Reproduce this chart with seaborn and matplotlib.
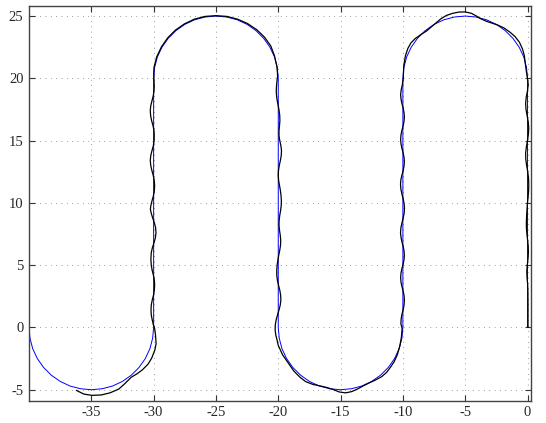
import matplotlib
matplotlib.use("Agg")
import pandas as pd
import matplotlib.pyplot as plt
import seaborn as sns


# ---------------------------------------------------------------------------
# Reference path (blue): two bottom and two top half circles joined by
# vertical legs at x = -30, -20, -10 and 0
# ---------------------------------------------------------------------------
ref_x = [-40, -39.92, -39.70, -39.33, -38.83, -38.21, -37.50, -36.71, -35.87, -35,
         -34.13, -33.29, -32.50, -31.79, -31.17, -30.67, -30.30, -30.08, -30,
         -30, -29.92, -29.70, -29.33, -28.83, -28.21, -27.50, -26.71, -25.87, -25,
         -24.13, -23.29, -22.50, -21.79, -21.17, -20.67, -20.30, -20.08, -20,
         -20, -19.92, -19.70, -19.33, -18.83, -18.21, -17.50, -16.71, -15.87, -15,
         -14.13, -13.29, -12.50, -11.79, -11.17, -10.67, -10.30, -10.08, -10,
         -10, -9.92, -9.70, -9.33, -8.83, -8.21, -7.50, -6.71, -5.87, -5,
         -4.13, -3.29, -2.50, -1.79, -1.17, -0.67, -0.30, -0.08, 0,
         0]
ref_y = [0, -0.87, -1.71, -2.50, -3.21, -3.83, -4.33, -4.70, -4.92, -5,
         -4.92, -4.70, -4.33, -3.83, -3.21, -2.50, -1.71, -0.87, 0,
         20, 20.87, 21.71, 22.50, 23.21, 23.83, 24.33, 24.70, 24.92, 25,
         24.92, 24.70, 24.33, 23.83, 23.21, 22.50, 21.71, 20.87, 20,
         0, -0.87, -1.71, -2.50, -3.21, -3.83, -4.33, -4.70, -4.92, -5,
         -4.92, -4.70, -4.33, -3.83, -3.21, -2.50, -1.71, -0.87, 0,
         20, 20.87, 21.71, 22.50, 23.21, 23.83, 24.33, 24.70, 24.92, 25,
         24.92, 24.70, 24.33, 23.83, 23.21, 22.50, 21.71, 20.87, 20,
         0]

# ---------------------------------------------------------------------------
# Tracked path (black), read off segment by segment
# ---------------------------------------------------------------------------
arc1_x = [-36.2, -35.6, -34.95, -34.2, -33.5, -32.8, -32.3, -31.8, -31.3, -30.9, -30.45,
          -30.15, -29.9, -29.8, -29.85, -29.93]
arc1_y = [-5.05, -5.35, -5.45, -5.42, -5.25, -4.95, -4.5, -4.0, -3.7, -3.4, -2.95,
          -2.45, -1.8, -1.3, -0.6, 0.0]

leg1_x = [-30.02, -30.11, -30.19, -30.21, -30.19, -30.11, -30.01, -29.94, -29.92, -29.94,
          -30.02, -30.12, -30.19, -30.22, -30.19, -30.1, -29.97, -29.86, -29.81, -29.84,
          -29.94, -30.08, -30.2, -30.26, -30.22, -30.12, -30.01, -29.94, -29.92, -29.95,
          -30.03, -30.14, -30.23, -30.27, -30.23, -30.13, -30.02, -29.96, -29.95, -29.97,
          -30.05, -30.16, -30.24, -30.27, -30.23, -30.13, -30.03, -29.97, -29.95, -29.97,
          -29.99]
leg1_y = [0.2, 0.6, 1.0, 1.4, 1.8, 2.2, 2.6, 3.0, 3.4, 3.8,
          4.2, 4.6, 5.0, 5.5, 6.0, 6.4, 6.8, 7.2, 7.6, 8.0,
          8.4, 8.8, 9.2, 9.5, 9.8, 10.2, 10.6, 11.0, 11.4, 11.8,
          12.2, 12.6, 13.0, 13.4, 13.8, 14.2, 14.6, 15.0, 15.4, 15.8,
          16.2, 16.6, 17.0, 17.4, 17.8, 18.2, 18.6, 19.0, 19.4, 19.8,
          20.4]

arc2_x = [-29.97, -29.75, -29.37, -28.87, -28.25, -27.53, -26.73, -25.88, -25.0,
          -24.12, -23.27, -22.47, -21.72, -21.1, -20.6, -20.3, -20.1, -20.05]
arc2_y = [20.88, 21.73, 22.53, 23.25, 23.87, 24.37, 24.75, 24.97, 25.03,
          24.97, 24.75, 24.4, 23.9, 23.3, 22.6, 21.8, 20.9, 20.2]

leg2_x = [-20.1, -20.14, -20.16, -20.14, -20.08, -20.0, -19.93, -19.88, -19.87, -19.9,
          -19.94, -19.94, -19.88, -19.79, -19.74, -19.76, -19.83, -19.92, -19.98, -20.0,
          -19.97, -19.9, -19.83, -19.78, -19.75, -19.76, -19.81, -19.88, -19.93, -19.94,
          -19.9, -19.84, -19.8, -19.82, -19.88, -19.96, -20.03, -20.09, -20.12, -20.12,
          -20.07, -19.98, -19.88, -19.81, -19.79, -19.84, -19.94, -20.06, -20.17, -20.24,
          -20.25, -20.2, -20.1, -20.0]
leg2_y = [19.8, 19.4, 19.0, 18.6, 18.2, 17.8, 17.4, 17.0, 16.6, 16.2,
          15.8, 15.4, 15.0, 14.6, 14.2, 13.8, 13.4, 13.0, 12.6, 12.2,
          11.8, 11.4, 11.0, 10.6, 10.2, 9.8, 9.4, 9.0, 8.6, 8.2,
          7.8, 7.4, 7.0, 6.6, 6.2, 5.8, 5.4, 5.0, 4.6, 4.2,
          3.8, 3.4, 3.0, 2.6, 2.2, 1.8, 1.4, 1.0, 0.6, 0.2,
          -0.2, -0.6, -1.0, -1.44]

arc3_x = [-19.65, -19.2, -18.75, -18.25, -17.8, -17.2, -16.6, -16.1, -15.6, -15.1, -14.6,
          -14.1, -13.6, -13.2, -12.7, -12.2, -11.7, -11.3, -11.0, -10.7, -10.45, -10.25,
          -10.12, -10.06]
arc3_y = [-2.2, -2.85, -3.5, -4.0, -4.35, -4.58, -4.7, -4.82, -4.98, -5.18, -5.25,
          -5.15, -4.92, -4.7, -4.45, -4.22, -3.95, -3.6, -3.2, -2.75, -2.2, -1.5,
          -0.8, -0.1]

leg3_x = [-10.16, -10.14, -10.08, -9.98, -9.91, -9.88, -9.9, -9.97, -10.07, -10.15,
          -10.18, -10.15, -10.08, -9.98, -9.91, -9.88, -9.91, -9.98, -10.08, -10.15,
          -10.19, -10.16, -10.08, -9.98, -9.9, -9.87, -9.9, -9.98, -10.08, -10.16,
          -10.19, -10.16, -10.08, -9.98, -9.91, -9.88, -9.91, -9.98, -10.08, -10.15,
          -10.18, -10.15, -10.08, -9.98, -9.91, -9.88, -9.91, -9.98, -10.08, -10.15,
          -10.18, -10.13, -10.04, -9.97]
leg3_y = [0.3, 0.67, 1.04, 1.41, 1.78, 2.15, 2.52, 2.89, 3.26, 3.63,
          4.0, 4.36, 4.72, 5.08, 5.44, 5.8, 6.16, 6.52, 6.88, 7.24,
          7.6, 7.99, 8.38, 8.77, 9.16, 9.55, 9.94, 10.33, 10.72, 11.11,
          11.5, 11.86, 12.22, 12.58, 12.94, 13.3, 13.66, 14.02, 14.38, 14.74,
          15.1, 15.46, 15.82, 16.18, 16.54, 16.9, 17.26, 17.62, 17.98, 18.34,
          18.7, 19.1, 19.5, 20.0]

arc4_x = [-9.93, -9.8, -9.6, -9.35, -9.0, -8.5, -8.1, -7.75, -7.35, -6.95, -6.5, -6.0,
          -5.5, -5.0, -4.5, -4.1, -3.75, -3.3, -2.9, -2.4, -1.9, -1.4, -1.0, -0.65,
          -0.4, -0.25, -0.18, -0.1, 0.0]
arc4_y = [21.0, 21.8, 22.4, 22.85, 23.2, 23.55, 23.8, 24.1, 24.45, 24.78, 25.05, 25.22,
          25.32, 25.33, 25.22, 25.0, 24.78, 24.58, 24.45, 24.28, 24.05, 23.7, 23.35, 22.9,
          22.35, 21.8, 21.2, 20.6, 20.0]

leg4_x = [0.06, 0.0, -0.1, -0.15, -0.12, -0.03, 0.06, 0.1, 0.07, 0.0,
          -0.09, -0.15, -0.14, -0.07, 0.02, 0.08, 0.1, 0.09, 0.05, 0.0,
          -0.04, -0.07, -0.09, -0.09, -0.05, 0.01, 0.06, 0.07, 0.04, -0.02,
          -0.06, -0.04, 0.01, 0.03, 0.04, 0.04, 0.04]
leg4_y = [19.5, 19.0, 18.5, 18.0, 17.5, 17.0, 16.5, 16.0, 15.5, 15.0,
          14.5, 14.0, 13.5, 13.0, 12.5, 12.0, 11.5, 11.0, 10.5, 10.0,
          9.5, 9.0, 8.5, 8.0, 7.5, 7.0, 6.5, 6.0, 5.5, 5.0,
          4.5, 4.0, 3.5, 3.0, 2.0, 1.0, 0.0]

x_ticks = [-35, -30, -25, -20, -15, -10, -5, 0]
y_ticks = [-5, 0, 5, 10, 15, 20, 25]


def build_frames():
    ref = pd.DataFrame({"x": ref_x, "y": ref_y})
    track = pd.DataFrame({
        "x": arc1_x + leg1_x + arc2_x + leg2_x + arc3_x + leg3_x + arc4_x + leg4_x,
        "y": arc1_y + leg1_y + arc2_y + leg2_y + arc3_y + leg3_y + arc4_y + leg4_y,
    })
    return ref, track


def plot_paths(ref, track):
    sns.set_style("ticks")
    plt.rcParams["font.family"] = ["Liberation Serif", "DejaVu Serif"]
    plt.rcParams["axes.unicode_minus"] = False

    fig = plt.figure(figsize=(5.46, 4.23), dpi=100)
    ax = fig.add_axes([29 / 546, 22.3 / 423, 501.5 / 546, 395 / 423])

    sns.lineplot(data=ref, x="x", y="y", sort=False, estimator=None,
                 color="#0000ff", linewidth=0.7, ax=ax)
    sns.lineplot(data=track, x="x", y="y", sort=False, estimator=None,
                 color="black", linewidth=0.9, ax=ax)

    ax.set_xlim(-40, 0.24)
    ax.set_ylim(-5.88, 25.83)
    ax.set_xticks(x_ticks)
    ax.set_yticks(y_ticks)
    ax.set_xlabel("")
    ax.set_ylabel("")

    ax.grid(True, linestyle=(0, (1, 6)), color="#666666", linewidth=0.55)
    ax.tick_params(direction="in", top=True, right=True, length=4, width=0.8,
                   color="#333333", labelsize=10.5, pad=4)
    for side in ax.spines.values():
        side.set_color("#444444")
        side.set_linewidth(1.0)

    fig.savefig("out.png", dpi=100)


if __name__ == "__main__":
    ref_df, track_df = build_frames()
    plot_paths(ref_df, track_df)
